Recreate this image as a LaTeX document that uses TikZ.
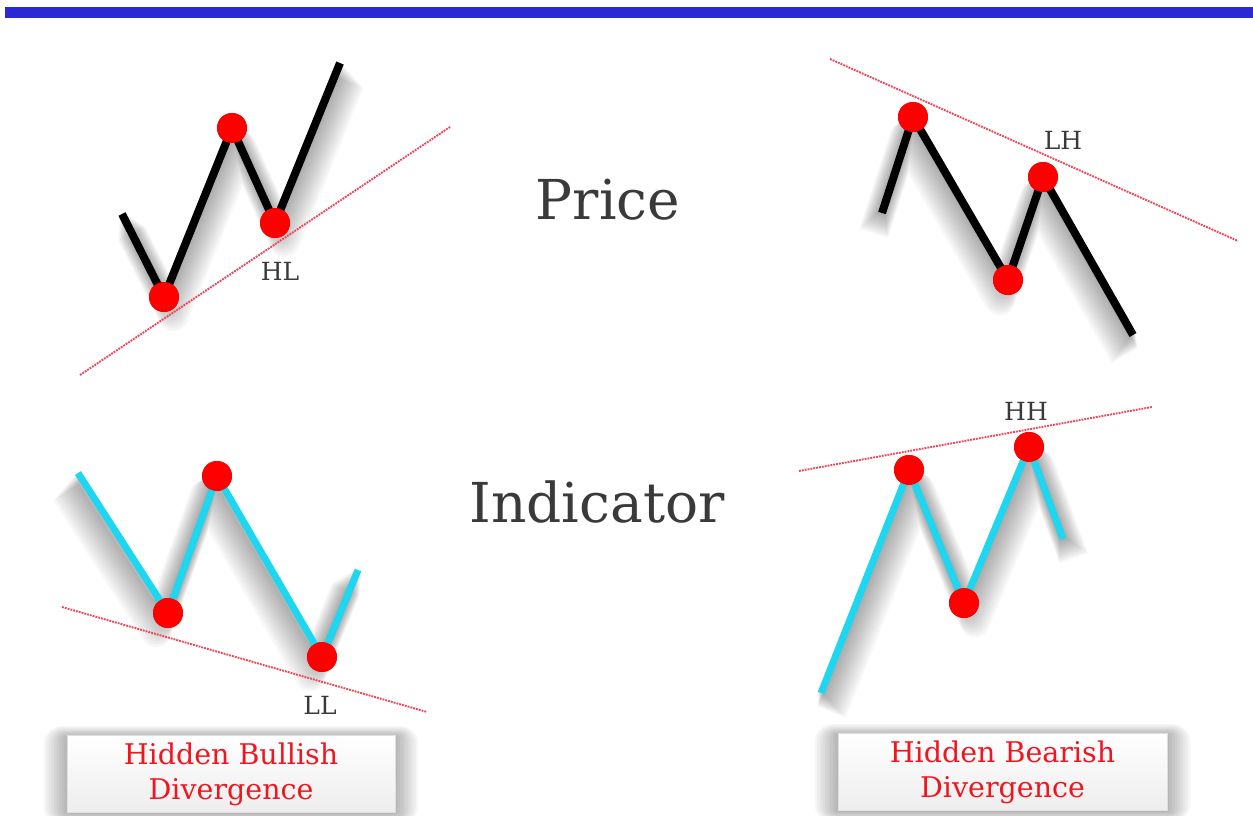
\documentclass[tikz,border=0pt]{standalone}
\usepackage{fontspec}
\setmainfont{DejaVu Serif}
\definecolor{barblue}{RGB}{42,41,212}
\definecolor{cyanline}{RGB}{30,214,240}
\definecolor{trend}{RGB}{236,72,92}
\definecolor{txtgray}{RGB}{58,58,58}
\definecolor{lblred}{RGB}{240,22,32}
\begin{document}
\begin{tikzpicture}[x=1pt,y=-1pt,
  dot/.style={circle,fill=red,inner sep=0pt,minimum size=30pt},
  priceline/.style={line width=8pt,black,line join=round},
  indline/.style={line width=7pt,cyanline,line join=round},
  trendline/.style={densely dotted,line width=1.9pt,trend},
  ptlabel/.style={font=\fontsize{25}{27}\selectfont,text=txtgray},
  bigtitle/.style={font=\fontsize{55}{60}\selectfont,text=txtgray},
  lblbox/.style={draw=gray!25,line width=0.6pt,top color=white,bottom color=gray!14,
    minimum width=328pt,minimum height=77pt,inner sep=0pt,align=center,
    font=\fontsize{28.5}{35}\selectfont,text=lblred},
  shade/.style={line width=#1,black,opacity=0.03,line join=round}
]
\useasboundingbox (0,0) rectangle (1253,816);
% top bar
\fill[barblue] (5,7) rectangle (1253,18);

% ---------- top-left: price (HL)
\coordinate (p1s) at (122,214);
\coordinate (p1e) at (340,63);
\node[dot] (p1a) at (164,297) {};
\node[dot] (p1b) at (232,128) {};
\node[dot] (p1c) at (275,223) {};
\coordinate (t1a) at (80,375);
\coordinate (t1b) at (450,127);
\foreach \k in {1,...,12}{
  \draw[shade=\k*2pt+6pt,transform canvas={shift={(\k*0.8,\k*1.6)}}]
    (p1s) -- (p1a.center) -- (p1b.center) -- (p1c.center) -- (p1e);
}
\draw[trendline] (t1a) -- (t1b);
\draw[priceline] (p1s) -- (p1a.center) -- (p1b.center) -- (p1c.center) -- (p1e);
\node[dot] at (p1a) {};
\node[dot] at (p1b) {};
\node[dot] at (p1c) {};
\node[ptlabel] (hl) at (280,271) {HL};

% ---------- top-right: price (LH)
\coordinate (p2s) at (882,213);
\coordinate (p2e) at (1133,335);
\node[dot] (p2a) at (913,117) {};
\node[dot] (p2b) at (1008,280) {};
\node[dot] (p2c) at (1043,177) {};
\coordinate (t2a) at (830,59);
\coordinate (t2b) at (1238,241);
\foreach \k in {1,...,12}{
  \draw[shade=\k*2pt+6pt,transform canvas={shift={(-\k*0.7,\k*1.7)}}]
    (p2s) -- (p2a.center) -- (p2b.center) -- (p2c.center) -- (p2e);
}
\draw[trendline] (t2a) -- (t2b);
\draw[priceline] (p2s) -- (p2a.center) -- (p2b.center) -- (p2c.center) -- (p2e);
\node[dot] at (p2a) {};
\node[dot] at (p2b) {};
\node[dot] at (p2c) {};
\node[ptlabel] (lh) at (1063,140) {LH};

% ---------- bottom-left: indicator (LL)
\coordinate (i1s) at (78,473);
\coordinate (i1e) at (358,570);
\node[dot] (i1a) at (168,613) {};
\node[dot] (i1b) at (217,476) {};
\node[dot] (i1c) at (322,657) {};
\coordinate (t3a) at (62,607);
\coordinate (t3b) at (427,712);
\foreach \k in {1,...,12}{
  \draw[shade=\k*2pt+6pt,transform canvas={shift={(-\k*1.0,\k*1.6)}}]
    (i1s) -- (i1a.center) -- (i1b.center) -- (i1c.center) -- (i1e);
}
\draw[trendline] (t3a) -- (t3b);
\draw[indline] (i1s) -- (i1a.center) -- (i1b.center) -- (i1c.center) -- (i1e);
\node[dot] at (i1a) {};
\node[dot] at (i1b) {};
\node[dot] at (i1c) {};
\node[ptlabel] (ll) at (320,705) {LL};

% ---------- bottom-right: indicator (HH)
\coordinate (i2s) at (821,693);
\coordinate (i2e) at (1063,539);
\node[dot] (i2a) at (909,470) {};
\node[dot] (i2b) at (964,603) {};
\node[dot] (i2c) at (1029,447) {};
\coordinate (t4a) at (799,471);
\coordinate (t4b) at (1152,407);
\foreach \k in {1,...,12}{
  \draw[shade=\k*2pt+6pt,transform canvas={shift={(\k*0.9,\k*1.6)}}]
    (i2s) -- (i2a.center) -- (i2b.center) -- (i2c.center) -- (i2e);
}
\draw[trendline] (t4a) -- (t4b);
\draw[indline] (i2s) -- (i2a.center) -- (i2b.center) -- (i2c.center) -- (i2e);
\node[dot] at (i2a) {};
\node[dot] at (i2b) {};
\node[dot] at (i2c) {};
\node[ptlabel] (hh) at (1026,411) {HH};

% ---------- titles
\node[bigtitle] (price) at (608,200) {Price};
\node[bigtitle] (indicator) at (597,502) {Indicator};

% ---------- label boxes with soft shadow
\foreach \k in {1,...,9}{
  \fill[black,opacity=0.035,rounded corners=\k*2pt]
    (67-\k*2.6,737-\k*1.2) rectangle (395+\k*2.6,813+\k*1.2);
  \fill[black,opacity=0.035,rounded corners=\k*2pt]
    (838-\k*2.6,735-\k*1.2) rectangle (1167+\k*2.6,811+\k*1.2);
}
\node[lblbox] (bull) at (231,774) {Hidden Bullish\\Divergence};
\node[lblbox,minimum width=329pt] (bear) at (1002.5,772) {Hidden Bearish\\Divergence};
\end{tikzpicture}
\end{document}
